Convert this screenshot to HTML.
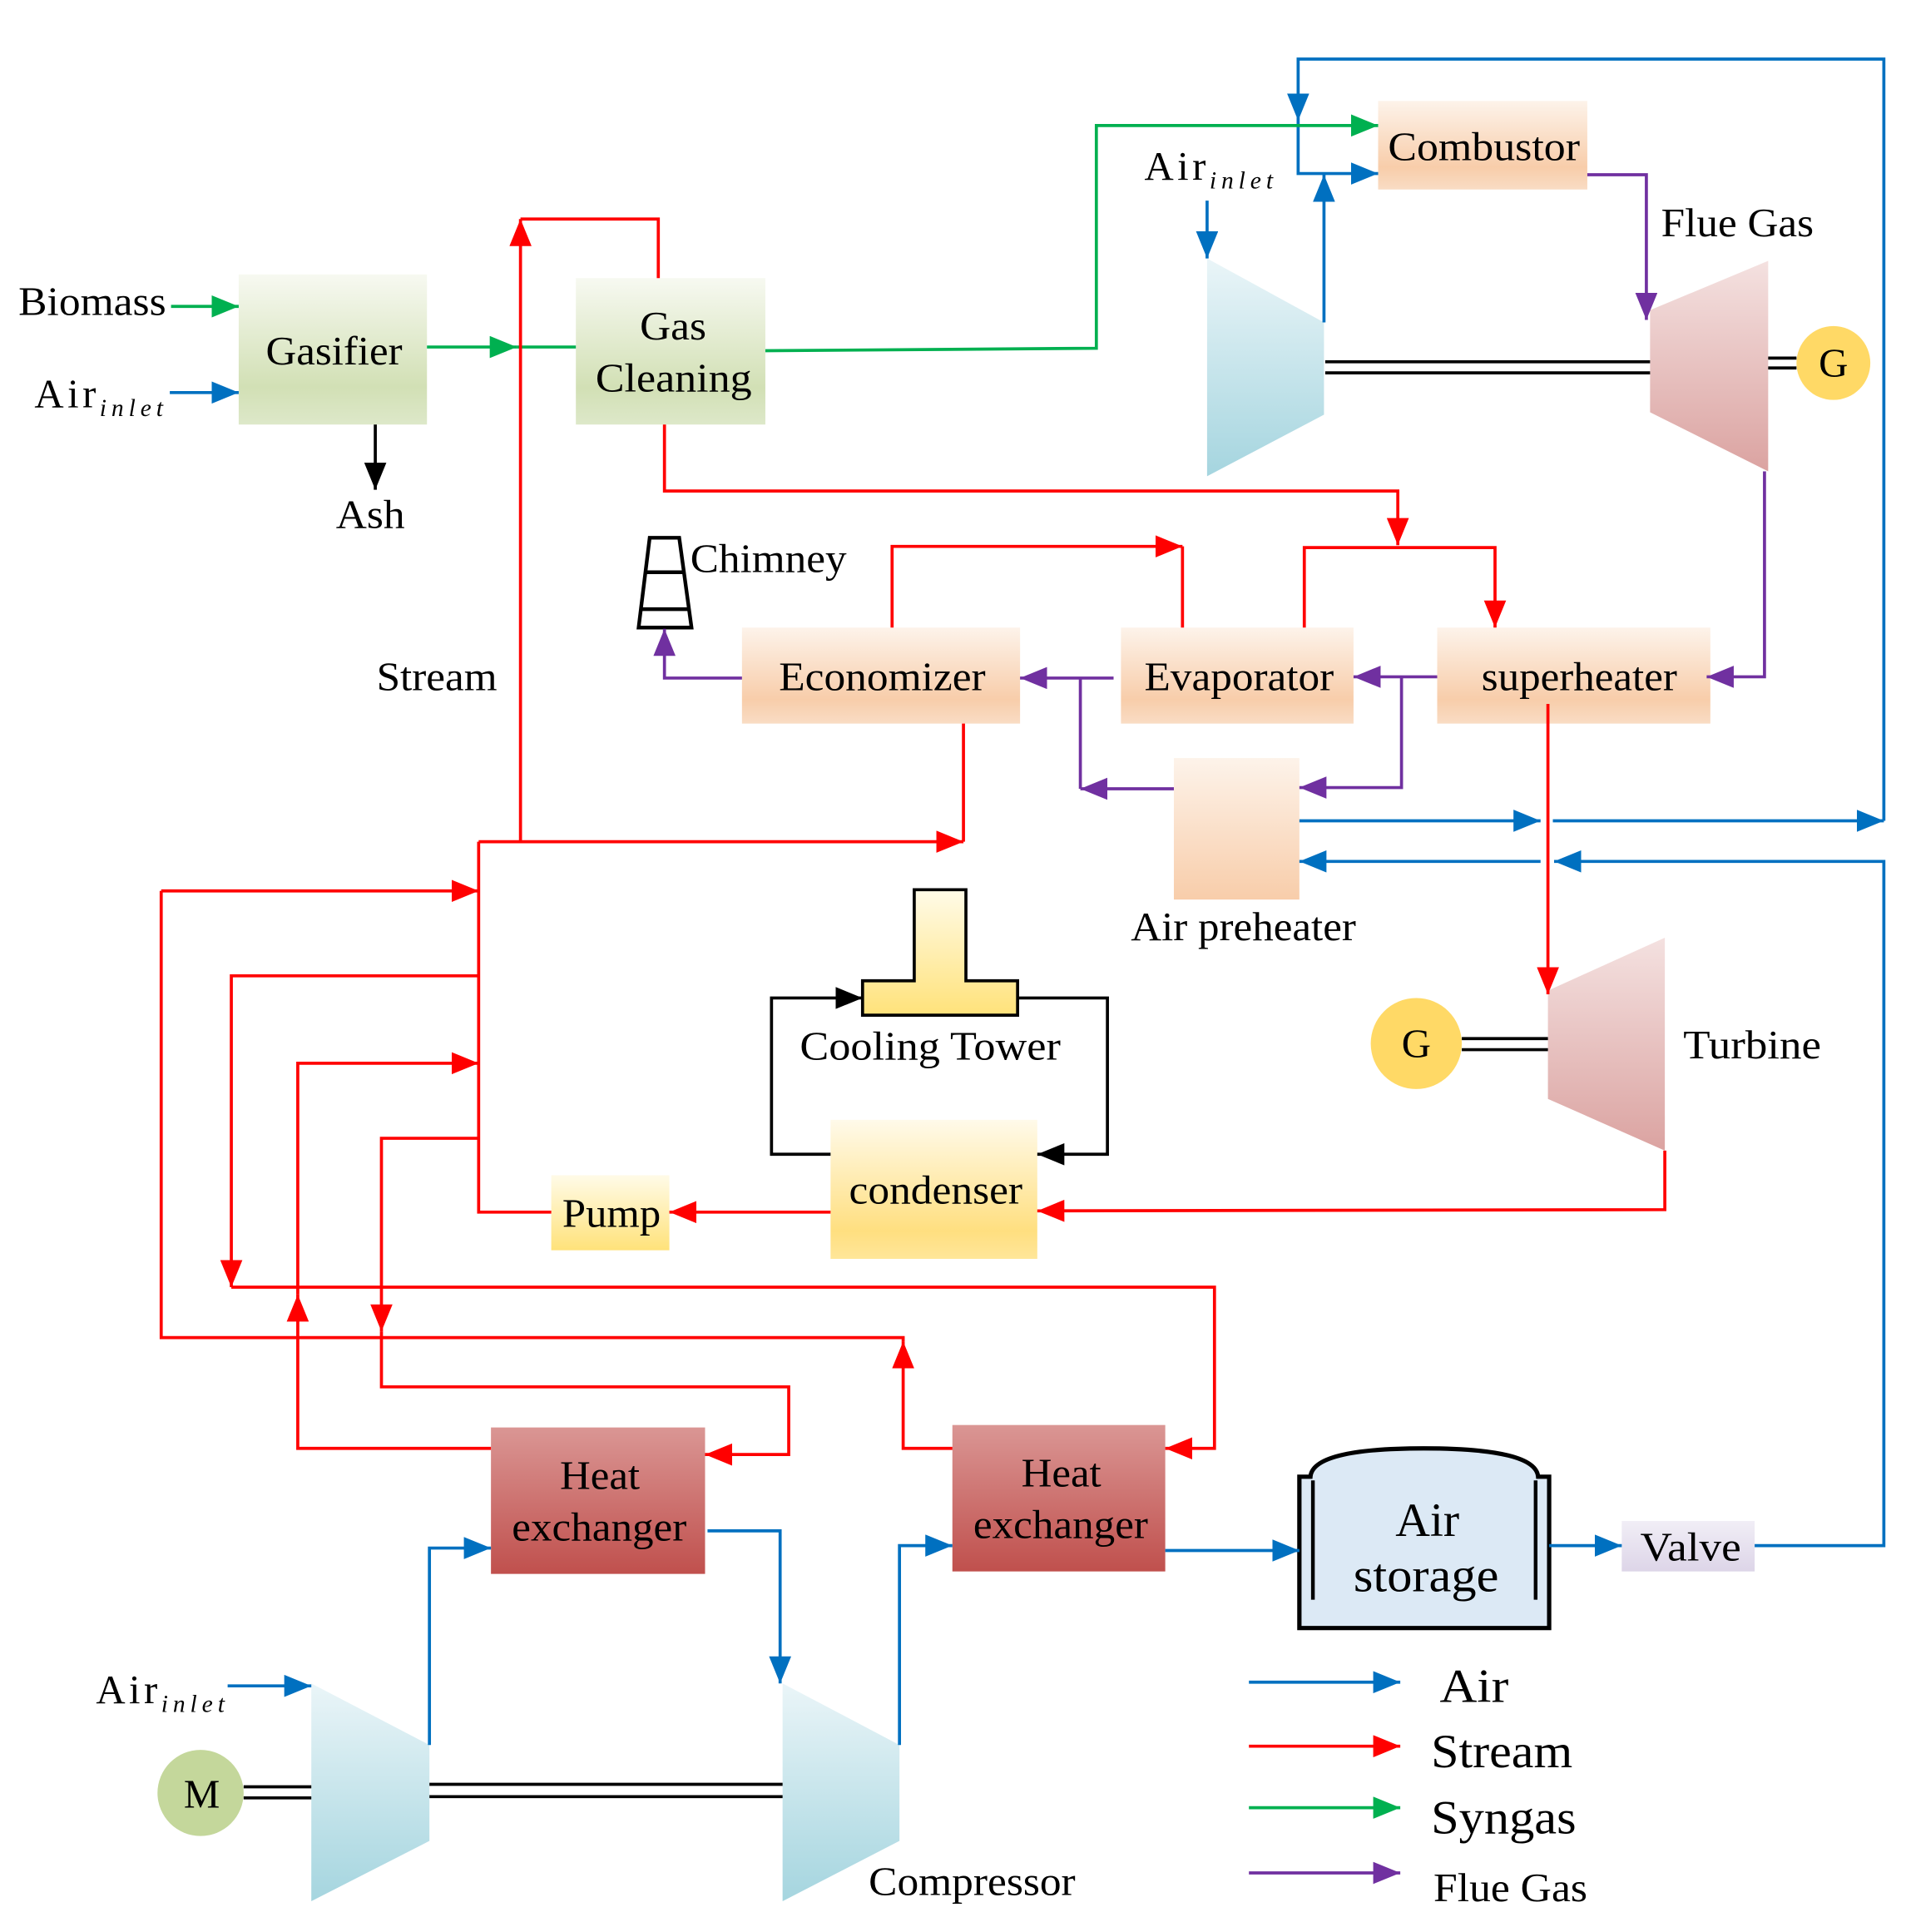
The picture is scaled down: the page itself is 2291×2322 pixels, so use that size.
<!DOCTYPE html>
<html><head><meta charset="utf-8"><style>
html,body{margin:0;padding:0;background:#fff;}
svg{display:block;}
text{font-family:"Liberation Serif",serif;fill:#000;}
</style></head><body>
<svg width="2291" height="2322" viewBox="0 0 1549 1570" preserveAspectRatio="none" xmlns="http://www.w3.org/2000/svg">
<defs>
<linearGradient id="gGreen" x1="0" y1="0" x2="0" y2="1"><stop offset="0" stop-color="#f7f9f1"/><stop offset="0.75" stop-color="#d2e0b5"/><stop offset="1" stop-color="#dde8c9"/></linearGradient>
<linearGradient id="gPeach" x1="0" y1="0" x2="0" y2="1"><stop offset="0" stop-color="#fdf3ea"/><stop offset="0.75" stop-color="#f8cdaa"/><stop offset="1" stop-color="#f9dcc4"/></linearGradient>
<linearGradient id="gPeach2" x1="0" y1="0" x2="0" y2="1"><stop offset="0" stop-color="#fdf3ea"/><stop offset="1" stop-color="#f8cdaa"/></linearGradient>
<linearGradient id="gYel" x1="0" y1="0" x2="0" y2="1"><stop offset="0" stop-color="#fffaea"/><stop offset="0.8" stop-color="#ffdf80"/><stop offset="1" stop-color="#ffe699"/></linearGradient>
<linearGradient id="gYel2" x1="0" y1="0" x2="0" y2="1"><stop offset="0" stop-color="#fffbe8"/><stop offset="1" stop-color="#ffe27a"/></linearGradient>
<linearGradient id="gRed" x1="0" y1="0" x2="0" y2="1"><stop offset="0" stop-color="#da9694"/><stop offset="1" stop-color="#c0504d"/></linearGradient>
<linearGradient id="gBlue" x1="0" y1="0" x2="0" y2="1"><stop offset="0" stop-color="#eaf5f8"/><stop offset="1" stop-color="#a5d5df"/></linearGradient>
<linearGradient id="gPink" x1="0" y1="0" x2="0" y2="1"><stop offset="0" stop-color="#f4e1e0"/><stop offset="1" stop-color="#dba3a1"/></linearGradient>
<linearGradient id="gPur" x1="0" y1="0" x2="0" y2="1"><stop offset="0" stop-color="#f1eef6"/><stop offset="1" stop-color="#ddd5e8"/></linearGradient>
<marker id="aB" markerUnits="userSpaceOnUse" markerWidth="24" markerHeight="18" refX="22" refY="9" orient="auto"><path d="M0,0 L22,9 L0,18 Z" fill="#0070c0"/></marker>
<marker id="aR" markerUnits="userSpaceOnUse" markerWidth="24" markerHeight="18" refX="22" refY="9" orient="auto"><path d="M0,0 L22,9 L0,18 Z" fill="#ff0000"/></marker>
<marker id="aG" markerUnits="userSpaceOnUse" markerWidth="24" markerHeight="18" refX="22" refY="9" orient="auto"><path d="M0,0 L22,9 L0,18 Z" fill="#00b050"/></marker>
<marker id="aP" markerUnits="userSpaceOnUse" markerWidth="24" markerHeight="18" refX="22" refY="9" orient="auto"><path d="M0,0 L22,9 L0,18 Z" fill="#7030a0"/></marker>
<marker id="aK" markerUnits="userSpaceOnUse" markerWidth="24" markerHeight="18" refX="22" refY="9" orient="auto"><path d="M0,0 L22,9 L0,18 Z" fill="#000"/></marker>
</defs>

<rect x="194" y="223" width="153" height="122" fill="url(#gGreen)"/>
<rect x="468" y="226" width="154" height="119" fill="url(#gGreen)"/>
<rect x="1120" y="82" width="170" height="72" fill="url(#gPeach)"/>
<polygon points="981,210 1076,262 1076,337 981,387" fill="url(#gBlue)"/>
<polygon points="1341,252 1437,212 1437,383 1341,335" fill="url(#gPink)"/>
<circle cx="1490" cy="295" r="30" fill="#ffd966"/>
<rect x="603" y="510" width="226" height="78" fill="url(#gPeach)"/>
<rect x="911" y="510" width="189" height="78" fill="url(#gPeach)"/>
<rect x="1168" y="510" width="222" height="78" fill="url(#gPeach)"/>
<rect x="954" y="616" width="102" height="115" fill="url(#gPeach2)"/>
<polygon points="743,723 785,723 785,797 827,797 827,825 701,825 701,797 743,797" fill="url(#gYel2)" stroke="#000" stroke-width="2.5"/>
<rect x="675" y="910" width="168" height="113" fill="url(#gYel)"/>
<rect x="448" y="955" width="96" height="61" fill="url(#gYel2)"/>
<polygon points="1258,805 1353,762 1353,935 1258,893" fill="url(#gPink)"/>
<circle cx="1151" cy="848" r="37" fill="#ffd966"/>
<rect x="399" y="1160" width="174" height="119" fill="url(#gRed)"/>
<rect x="774" y="1158" width="173" height="119" fill="url(#gRed)"/>
<rect x="1318" y="1236" width="108" height="41" fill="url(#gPur)"/>
<polygon points="253,1368 349,1418 349,1496 253,1545" fill="url(#gBlue)"/>
<polygon points="636,1368 731,1418 731,1496 636,1545" fill="url(#gBlue)"/>
<circle cx="163" cy="1457" r="35" fill="#c4d79b"/>

<path d="M1056,1200 L1065,1200 Q1067,1177 1157,1177 Q1248,1177 1250,1200 L1259,1200 L1259,1323 L1056,1323 Z" fill="#dce9f5" stroke="#000" stroke-width="3.5"/>
<line x1="1067" y1="1203" x2="1067" y2="1300" stroke="#000" stroke-width="3"/>
<line x1="1248" y1="1203" x2="1248" y2="1300" stroke="#000" stroke-width="3"/>

<g stroke="#000" stroke-width="3" fill="none">
<polygon points="528,437 552,437 562,510 519,510"/>
<line x1="524" y1="465" x2="556" y2="465"/>
<line x1="521" y1="495" x2="559" y2="495"/>
</g>

<g stroke="#000" stroke-width="2.5">
<line x1="1077" y1="294" x2="1341" y2="294"/><line x1="1077" y1="303" x2="1341" y2="303"/>
<line x1="1437" y1="291" x2="1460" y2="291"/><line x1="1437" y1="299" x2="1460" y2="299"/>
<line x1="1188" y1="844" x2="1258" y2="844"/><line x1="1188" y1="853" x2="1258" y2="853"/>
<line x1="349" y1="1450" x2="636" y2="1450"/><line x1="349" y1="1460" x2="636" y2="1460"/>
<line x1="198" y1="1452" x2="253" y2="1452"/><line x1="198" y1="1461" x2="253" y2="1461"/>
</g>

<g stroke="#0070c0" stroke-width="2.5" fill="none">
<line x1="138" y1="319" x2="194" y2="319" marker-end="url(#aB)"/>
<polyline points="1531,667 1531,48 1055,48 1055,98" marker-end="url(#aB)"/>
<polyline points="1055,98 1055,141 1120,141" marker-end="url(#aB)"/>
<line x1="1076" y1="262" x2="1076" y2="142" marker-end="url(#aB)"/>
<line x1="981" y1="163" x2="981" y2="210" marker-end="url(#aB)"/>
<line x1="1056" y1="667" x2="1252" y2="667" marker-end="url(#aB)"/>
<line x1="1262" y1="667" x2="1531" y2="667" marker-end="url(#aB)"/>
<polyline points="1426,1256 1531,1256 1531,700 1263,700" marker-end="url(#aB)"/>
<line x1="1252" y1="700" x2="1056" y2="700" marker-end="url(#aB)"/>
<line x1="1259" y1="1256" x2="1318" y2="1256" marker-end="url(#aB)"/>
<line x1="947" y1="1260" x2="1056" y2="1260" marker-end="url(#aB)"/>
<polyline points="349,1418 349,1258 399,1258" marker-end="url(#aB)"/>
<polyline points="575,1244 634,1244 634,1368" marker-end="url(#aB)"/>
<polyline points="731,1418 731,1256 774,1256" marker-end="url(#aB)"/>
<line x1="185" y1="1370" x2="253" y2="1370" marker-end="url(#aB)"/>
<line x1="1015" y1="1367" x2="1138" y2="1367" marker-end="url(#aB)"/>
</g>

<g stroke="#00b050" stroke-width="2.5" fill="none">
<line x1="139" y1="249" x2="194" y2="249" marker-end="url(#aG)"/>
<line x1="347" y1="282" x2="420" y2="282" marker-end="url(#aG)"/>
<line x1="420" y1="282" x2="468" y2="282"/>
<polyline points="622,285 891,283 891,102 1120,102" marker-end="url(#aG)"/>
<line x1="1015" y1="1469" x2="1138" y2="1469" marker-end="url(#aG)"/>
</g>

<g stroke="#000" stroke-width="2.5" fill="none">
<line x1="305" y1="345" x2="305" y2="398" marker-end="url(#aK)"/>
<polyline points="675,938 627,938 627,811 701,811" marker-end="url(#aK)"/>
<polyline points="827,811 900,811 900,938 843,938" marker-end="url(#aK)"/>
</g>

<g stroke="#ff0000" stroke-width="2.5" fill="none">
<polyline points="535,226 535,178 423,178"/>
<line x1="423" y1="684" x2="423" y2="178" marker-end="url(#aR)"/>
<polyline points="540,345 540,399 1136,399 1136,443" marker-end="url(#aR)"/>
<polyline points="1060,510 1060,445 1215,445 1215,510" marker-end="url(#aR)"/>
<polyline points="725,510 725,444 961,444" marker-end="url(#aR)"/>
<line x1="961" y1="444" x2="961" y2="510"/>
<line x1="783" y1="588" x2="783" y2="684"/>
<line x1="389" y1="684" x2="783" y2="684" marker-end="url(#aR)"/>
<line x1="1258" y1="572" x2="1258" y2="808" marker-end="url(#aR)"/>
<polyline points="1353,935 1353,983 843,984" marker-end="url(#aR)"/>
<line x1="675" y1="985" x2="544" y2="985" marker-end="url(#aR)"/>
<polyline points="448,985 389,985 389,684"/>
<line x1="131" y1="724" x2="389" y2="724" marker-end="url(#aR)"/>
<polyline points="131,724 131,1087 734,1087 734,1090"/>
<polyline points="774,1177 734,1177 734,1090" marker-end="url(#aR)"/>
<polyline points="389,793 188,793 188,1046" marker-end="url(#aR)"/>
<polyline points="188,1046 987,1046 987,1177 947,1177" marker-end="url(#aR)"/>
<polyline points="399,1177 242,1177 242,1052" marker-end="url(#aR)"/>
<polyline points="242,1052 242,864 389,864" marker-end="url(#aR)"/>
<polyline points="389,925 310,925 310,1082" marker-end="url(#aR)"/>
<polyline points="310,1082 310,1127 641,1127 641,1182 573,1182" marker-end="url(#aR)"/>
<line x1="1015" y1="1419" x2="1138" y2="1419" marker-end="url(#aR)"/>
</g>

<g stroke="#7030a0" stroke-width="2.5" fill="none">
<polyline points="1290,142 1338,142 1338,260" marker-end="url(#aP)"/>
<polyline points="1434,383 1434,550 1387,550" marker-end="url(#aP)"/>
<line x1="1168" y1="550" x2="1100" y2="550" marker-end="url(#aP)"/>
<polyline points="1139,550 1139,640 1056,640" marker-end="url(#aP)"/>
<line x1="905" y1="551" x2="829" y2="551" marker-end="url(#aP)"/>
<line x1="878" y1="551" x2="878" y2="641"/>
<line x1="954" y1="641" x2="878" y2="641" marker-end="url(#aP)"/>
<polyline points="603,551 540,551 540,511" marker-end="url(#aP)"/>
<line x1="1015" y1="1522" x2="1138" y2="1522" marker-end="url(#aP)"/>
</g>

<g font-size="33" lengthAdjust="spacingAndGlyphs">
<text x="15" y="256" textLength="120" lengthAdjust="spacingAndGlyphs">Biomass</text>
<text x="28" y="331" letter-spacing="3">Air<tspan font-size="20" font-style="italic" dy="7" letter-spacing="4">inlet</tspan></text>
<text x="216" y="296" textLength="111" lengthAdjust="spacingAndGlyphs">Gasifier</text>
<text x="520" y="276" textLength="54" lengthAdjust="spacingAndGlyphs">Gas</text>
<text x="484" y="318" textLength="127" lengthAdjust="spacingAndGlyphs">Cleaning</text>
<text x="1128" y="130" textLength="156" lengthAdjust="spacingAndGlyphs">Combustor</text>
<text x="930" y="146" letter-spacing="3">Air<tspan font-size="20" font-style="italic" dy="7" letter-spacing="4">inlet</tspan></text>
<text x="1350" y="192" textLength="124" lengthAdjust="spacingAndGlyphs">Flue Gas</text>
<text x="1490" y="306" text-anchor="middle">G</text>
<text x="273" y="429" textLength="56" lengthAdjust="spacingAndGlyphs">Ash</text>
<text x="561" y="465" textLength="127" lengthAdjust="spacingAndGlyphs">Chimney</text>
<text x="306" y="561" textLength="98" lengthAdjust="spacingAndGlyphs">Stream</text>
<text x="633" y="561" textLength="168" lengthAdjust="spacingAndGlyphs">Economizer</text>
<text x="930" y="561" textLength="154" lengthAdjust="spacingAndGlyphs">Evaporator</text>
<text x="1204" y="561" textLength="159" lengthAdjust="spacingAndGlyphs">superheater</text>
<text x="919" y="764" textLength="183" lengthAdjust="spacingAndGlyphs">Air preheater</text>
<text x="650" y="861" textLength="212" lengthAdjust="spacingAndGlyphs">Cooling Tower</text>
<text x="1368" y="860" textLength="112" lengthAdjust="spacingAndGlyphs">Turbine</text>
<text x="1151" y="859" text-anchor="middle">G</text>
<text x="690" y="978" textLength="141" lengthAdjust="spacingAndGlyphs">condenser</text>
<text x="457" y="997" textLength="80" lengthAdjust="spacingAndGlyphs">Pump</text>
<text x="455" y="1210" textLength="65" lengthAdjust="spacingAndGlyphs">Heat</text>
<text x="416" y="1252" textLength="142" lengthAdjust="spacingAndGlyphs">exchanger</text>
<text x="830" y="1208" textLength="65" lengthAdjust="spacingAndGlyphs">Heat</text>
<text x="791" y="1250" textLength="142" lengthAdjust="spacingAndGlyphs">exchanger</text>
<text x="1333" y="1268" textLength="82" lengthAdjust="spacingAndGlyphs">Valve</text>
<text x="78" y="1384" letter-spacing="3">Air<tspan font-size="20" font-style="italic" dy="7" letter-spacing="4">inlet</tspan></text>
<text x="164" y="1469" text-anchor="middle">M</text>
<text x="706" y="1540" textLength="168" lengthAdjust="spacingAndGlyphs">Compressor</text>
</g>
<text x="1160" y="1248" font-size="39" text-anchor="middle">Air</text>
<text x="1100" y="1293" font-size="39" textLength="118" lengthAdjust="spacingAndGlyphs">storage</text>
<text x="1170" y="1383" font-size="39" textLength="56" lengthAdjust="spacingAndGlyphs">Air</text>
<text x="1163" y="1436" font-size="39" textLength="115" lengthAdjust="spacingAndGlyphs">Stream</text>
<text x="1163" y="1490" font-size="39" textLength="118" lengthAdjust="spacingAndGlyphs">Syngas</text>
<text x="1165" y="1545" font-size="33" textLength="125" lengthAdjust="spacingAndGlyphs">Flue Gas</text>
</svg>
</body></html>
